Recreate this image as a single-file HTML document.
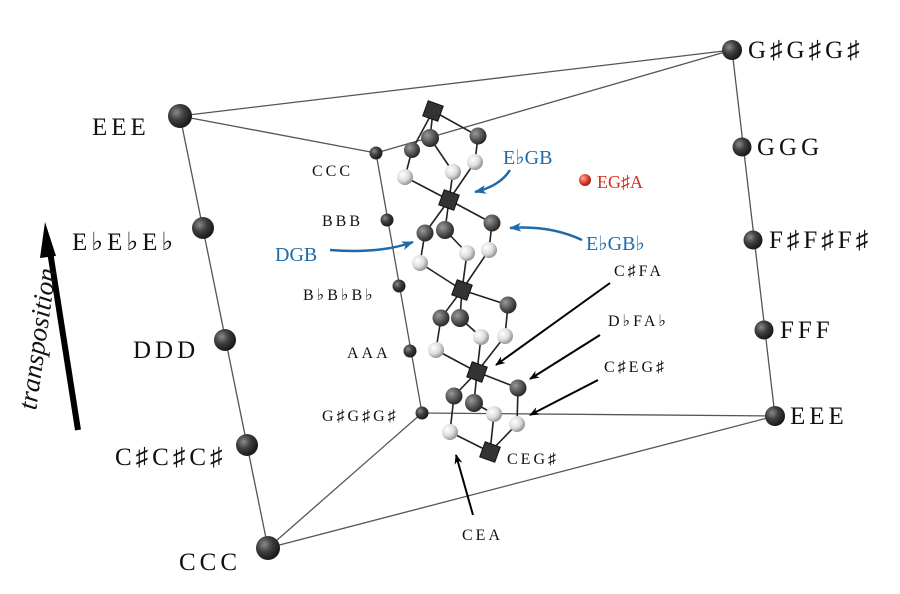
<!DOCTYPE html>
<html><head><meta charset="utf-8"><style>
html,body{margin:0;padding:0;background:#fff;}
svg{display:block;}
text{font-family:"Liberation Serif",serif;}
</style></head><body>
<svg width="900" height="594" viewBox="0 0 900 594" xmlns="http://www.w3.org/2000/svg">
<defs>
<radialGradient id="dk" cx="35%" cy="35%" r="65%"><stop offset="0" stop-color="#8a8a8a"/><stop offset="0.5" stop-color="#3e3e3e"/><stop offset="1" stop-color="#1a1a1a"/></radialGradient>
<radialGradient id="md" cx="35%" cy="35%" r="65%"><stop offset="0" stop-color="#9a9a9a"/><stop offset="0.6" stop-color="#555"/><stop offset="1" stop-color="#2a2a2a"/></radialGradient>
<radialGradient id="lt" cx="35%" cy="35%" r="65%"><stop offset="0" stop-color="#fff"/><stop offset="0.6" stop-color="#ddd"/><stop offset="1" stop-color="#999"/></radialGradient>
<radialGradient id="rd" cx="35%" cy="35%" r="65%"><stop offset="0" stop-color="#f8b0a0"/><stop offset="0.6" stop-color="#e04030"/><stop offset="1" stop-color="#a02010"/></radialGradient>
<marker id="ah" markerWidth="10" markerHeight="8" refX="9" refY="4" orient="auto" markerUnits="userSpaceOnUse"><path d="M0,0 L10,4 L0,8 L3,4z" fill="#000"/></marker>
<marker id="ab" markerWidth="12" markerHeight="9" refX="11" refY="4.5" orient="auto" markerUnits="userSpaceOnUse"><path d="M0,0 L12,4.5 L0,9 L3,4.5z" fill="#1f6aa8"/></marker>
</defs>
<g stroke="#555" stroke-width="1.3" fill="none">
<line x1="180" y1="116" x2="732" y2="50"/>
<line x1="180" y1="116" x2="268" y2="548"/>
<line x1="268" y1="548" x2="775" y2="416"/>
<line x1="732" y1="50" x2="775" y2="416"/>
<line x1="180" y1="116" x2="376" y2="153"/>
<line x1="732" y1="50" x2="376" y2="153"/>
<line x1="376" y1="153" x2="422" y2="413"/>
<line x1="422" y1="413" x2="775" y2="416"/>
<line x1="422" y1="413" x2="268" y2="548"/>
</g>
<g stroke="#222" stroke-width="1.6">
<line x1="433" y1="111" x2="430" y2="138"/><line x1="433" y1="111" x2="412" y2="150"/><line x1="433" y1="111" x2="478" y2="136"/>
<line x1="412" y1="150" x2="405" y2="177"/><line x1="430" y1="138" x2="453" y2="172"/><line x1="478" y1="136" x2="475" y2="162"/>
<line x1="405" y1="177" x2="449" y2="200"/><line x1="453" y1="172" x2="449" y2="200"/><line x1="475" y1="162" x2="449" y2="200"/>
<line x1="449" y1="200" x2="425" y2="233"/><line x1="449" y1="200" x2="445" y2="230"/><line x1="449" y1="200" x2="492" y2="223"/>
<line x1="425" y1="233" x2="420" y2="263"/><line x1="445" y1="230" x2="467" y2="253"/><line x1="492" y1="223" x2="489" y2="250"/>
<line x1="420" y1="263" x2="462" y2="290"/><line x1="467" y1="253" x2="462" y2="290"/><line x1="489" y1="250" x2="462" y2="290"/>
<line x1="462" y1="290" x2="441" y2="318"/><line x1="462" y1="290" x2="460" y2="318"/><line x1="462" y1="290" x2="508" y2="305"/>
<line x1="441" y1="318" x2="436" y2="350"/><line x1="460" y1="318" x2="481" y2="337"/><line x1="508" y1="305" x2="505" y2="336"/>
<line x1="436" y1="350" x2="477" y2="372"/><line x1="481" y1="337" x2="477" y2="372"/><line x1="505" y1="336" x2="477" y2="372"/>
<line x1="477" y1="372" x2="454" y2="396"/><line x1="477" y1="372" x2="474" y2="403"/><line x1="477" y1="372" x2="518" y2="388"/>
<line x1="454" y1="396" x2="450" y2="432"/><line x1="474" y1="403" x2="494" y2="414"/><line x1="518" y1="388" x2="517" y2="424"/>
<line x1="450" y1="432" x2="490" y2="452"/><line x1="494" y1="414" x2="490" y2="452"/><line x1="517" y1="424" x2="490" y2="452"/>
</g>
<g fill="url(#lt)">
<circle cx="405" cy="177" r="8"/><circle cx="453" cy="172" r="8"/><circle cx="475" cy="162" r="8"/>
<circle cx="420" cy="263" r="8"/><circle cx="467" cy="253" r="8"/><circle cx="489" cy="250" r="8"/>
<circle cx="436" cy="350" r="8"/><circle cx="481" cy="337" r="8"/><circle cx="505" cy="336" r="8"/>
<circle cx="450" cy="432" r="8"/><circle cx="494" cy="414" r="8"/><circle cx="517" cy="424" r="8"/>
</g>
<g fill="url(#md)">
<circle cx="412" cy="150" r="8"/><circle cx="430" cy="138" r="9"/><circle cx="478" cy="136" r="8.5"/>
<circle cx="425" cy="233" r="8.5"/><circle cx="445" cy="230" r="9"/><circle cx="492" cy="223" r="8.5"/>
<circle cx="441" cy="318" r="8.5"/><circle cx="460" cy="318" r="9"/><circle cx="508" cy="305" r="8.5"/>
<circle cx="454" cy="396" r="8.5"/><circle cx="474" cy="403" r="9"/><circle cx="518" cy="388" r="8.5"/>
</g>
<g fill="#333" stroke="#111" stroke-width="1">
<rect x="425" y="103" width="16" height="16" transform="rotate(20 433 111)"/>
<rect x="441" y="192" width="16" height="16" transform="rotate(20 449 200)"/>
<rect x="454" y="282" width="16" height="16" transform="rotate(20 462 290)"/>
<rect x="469" y="364" width="16" height="16" transform="rotate(20 477 372)"/>
<rect x="482" y="444" width="16" height="16" transform="rotate(20 490 452)"/>
</g>
<g fill="url(#dk)">
<circle cx="180" cy="116" r="12"/><circle cx="203" cy="228" r="11"/><circle cx="225" cy="340" r="11"/><circle cx="247" cy="445" r="11"/><circle cx="268" cy="548" r="12"/>
<circle cx="732" cy="50" r="10"/><circle cx="742" cy="147" r="9.5"/><circle cx="753" cy="240" r="9.5"/><circle cx="764" cy="330" r="9.5"/><circle cx="775" cy="416" r="10"/>
<circle cx="376" cy="153" r="6.5"/><circle cx="387" cy="220" r="6.5"/><circle cx="399" cy="286" r="6.5"/><circle cx="410" cy="351" r="6.5"/><circle cx="422" cy="413" r="6.5"/>
</g>
<circle cx="585" cy="180" r="6" fill="url(#rd)"/>
<g font-size="25" fill="#111" letter-spacing="4">
<text x="92" y="135">EEE</text>
<text x="72" y="250">E♭E♭E♭</text>
<text x="133" y="358">DDD</text>
<text x="115" y="465">C♯C♯C♯</text>
<text x="179" y="570">CCC</text>
<text x="748" y="58">G♯G♯G♯</text>
<text x="757" y="155">GGG</text>
<text x="769" y="248">F♯F♯F♯</text>
<text x="780" y="338">FFF</text>
<text x="790" y="424">EEE</text>
</g>
<g font-size="16" fill="#111" letter-spacing="3">
<text x="312" y="176">CCC</text>
<text x="322" y="226">BBB</text>
<text x="303" y="300">B♭B♭B♭</text>
<text x="347" y="358">AAA</text>
<text x="322" y="421">G♯G♯G♯</text>
<text x="507" y="464">CEG♯</text>
<text x="462" y="540">CEA</text>
<text x="614" y="276">C♯FA</text>
<text x="608" y="326">D♭FA♭</text>
<text x="604" y="372">C♯EG♯</text>
</g>
<g font-size="20" fill="#1f6aa8">
<text x="503" y="164">E♭GB</text>
<text x="586" y="250">E♭GB♭</text>
<text x="275" y="261">DGB</text>
</g>
<text x="597" y="188" font-size="18" fill="#d03020">EG♯A</text>
<g stroke="#1f6aa8" stroke-width="2.5" fill="none">
<path d="M510,170 Q500,186 475,192" marker-end="url(#ab)"/>
<path d="M582,240 Q550,225 510,228" marker-end="url(#ab)"/>
<path d="M330,250 Q380,254 413,242" marker-end="url(#ab)"/>
</g>
<g stroke="#000" stroke-width="2" fill="none">
<line x1="610" y1="283" x2="496" y2="365" marker-end="url(#ah)"/>
<line x1="600" y1="335" x2="530" y2="379" marker-end="url(#ah)"/>
<line x1="598" y1="380" x2="530" y2="415" marker-end="url(#ah)"/>
<line x1="473" y1="515" x2="456" y2="455" marker-end="url(#ah)"/>
</g>
<line x1="78" y1="430" x2="49" y2="245" stroke="#000" stroke-width="6"/>
<path d="M45,222 L56,256 L40,258z" fill="#000"/>
<text transform="translate(46,340) rotate(-82)" font-size="27" font-style="italic" text-anchor="middle" fill="#111">transposition</text>
</svg>
</body></html>
